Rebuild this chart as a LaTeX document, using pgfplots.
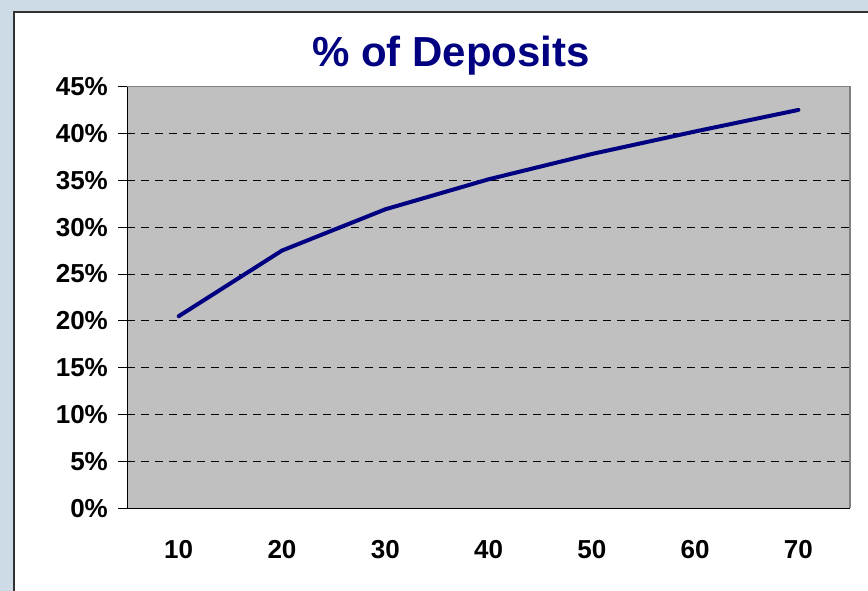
\documentclass[border=0pt]{standalone}
\usepackage{pgfplots}
\pgfplotsset{compat=1.18}
\usepackage{fontspec}
\setmainfont{Liberation Sans}
\definecolor{bgblue}{RGB}{204,219,229}
\definecolor{plotgray}{RGB}{192,192,192}
\definecolor{navy}{RGB}{0,0,128}
\definecolor{frame}{RGB}{51,51,51}
\begin{document}
\begin{tikzpicture}[x=1pt,y=1pt]
\useasboundingbox (0,0) rectangle (868,591);
\fill[bgblue] (0,0) rectangle (868,591);
\draw[frame, fill=white, line width=2pt] (14,-10) rectangle (890,579);
\node[anchor=base, text=navy, font=\fontsize{42}{48}\selectfont\bfseries] at (451,524) {\% of Deposits};
\begin{axis}[
  at={(123,88)}, anchor=south west,
  scale only axis, width=723pt, height=422pt,
  xmin=0.5, xmax=7.5, ymin=0, ymax=45,
  axis lines=left, axis line style={-, black, line width=1pt},
  axis background/.style={fill=plotgray},
  tick align=outside,
  xtick={1,2,3,4,5,6,7},
  xticklabels={10,20,30,40,50,60,70},
  xtick style={draw=none},
  minor xtick={0.5,1.5,2.5,3.5,4.5,5.5,6.5,7.5},
  minor x tick style={black, line width=1pt},
  minor tick length=9pt,
  major tick length=9pt,
  ytick={0,5,10,15,20,25,30,35,40,45},
  yticklabels={0\%,5\%,10\%,15\%,20\%,25\%,30\%,35\%,40\%,45\%},
  ytick style={black, line width=1pt},
  ymajorgrids,
  grid style={black, line width=1pt, dash pattern=on 8pt off 6pt},
  /pgf/number format/assume math mode=true,
  ticklabel style={font=\fontsize{26}{30}\selectfont\bfseries},
  yticklabel style={anchor=east, inner sep=0pt, xshift=-10pt},
  xticklabel style={anchor=base, inner sep=0pt, yshift=-41pt},
  clip=false,
]
\addplot[navy, line width=4pt, line cap=round, line join=round] coordinates {
  (1,20.5) (2,27.5) (3,31.9) (4,35.1) (5,37.8) (6,40.2) (7,42.5)
};
\draw[gray, line width=1.5pt] (rel axis cs:0,1) -- (rel axis cs:1,1) -- (rel axis cs:1,0);
\end{axis}
\end{tikzpicture}
\end{document}
